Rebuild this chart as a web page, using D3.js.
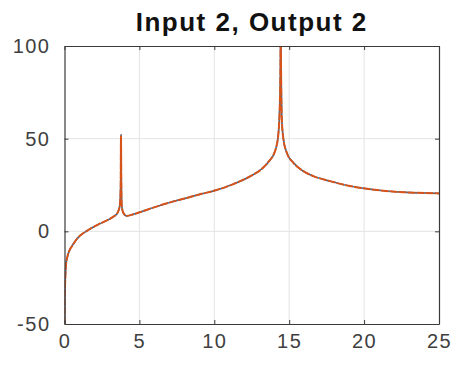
<!DOCTYPE html>
<html lang="en"><head>
<meta charset="UTF-8">
<title>Input 2, Output 2</title>
<script src="https://cdn.jsdelivr.net/npm/d3@7"></script>
<style>
body { margin: 0; background: #fff; }
text { font-family: "Liberation Sans", Arial, sans-serif; }
</style>
</head>
<body>
<script>
// response curve
var freq = [0, 0.02, 0.05, 0.1, 0.2, 0.35, 0.5, 0.7, 0.95, 1.2, 1.5, 1.9, 2.3, 2.7, 3.0, 3.3, 3.5, 3.62,
            3.7, 3.75, 3.77, 3.79, 3.82, 3.88, 3.98, 4.15, 4.6, 5.2, 5.93, 7.0, 8.16, 9.05, 10.16, 11.27, 12.38,
            13.27, 13.72, 13.94, 14.12, 14.27, 14.36, 14.41, 14.43, 14.46, 14.5, 14.61, 14.84, 15.28, 15.94,
            16.61, 17.72, 18.84, 19.95, 21.06, 22.4, 23.6, 24.85, 25];
var mag  = [-50, -35, -26, -18, -13.5, -10, -8, -5.5, -3, -1.3, 0.3, 2.2, 3.9, 5.4, 6.6, 8.1, 9.5, 11.5,
            14.5, 25, 52, 30, 14, 11, 9.3, 8.3, 9.2, 10.8, 12.8, 15.5, 18.0, 20.0, 22.3, 25.5, 29.6,
            34.4, 38.5, 41, 45, 52, 65, 85, 110, 85, 62, 50, 42.4, 37, 32.5,
            29.8, 27.1, 24.8, 23.2, 22.1, 21.2, 20.8, 20.5, 20.4];

var xTicks = [0, 5, 10, 15, 20, 25];
var yTicks = [-50, 0, 50, 100];
var title = "Input 2, Output 2";

var width = 457, height = 368;
var mLeft = 64.5, mRight = 439, mTop = 46, mBottom = 324;

var svg = d3.select("body").append("svg")
  .attr("width", width).attr("height", height);

var x = d3.scaleLinear().domain([0, 25]).range([mLeft, mRight]);
var y = d3.scaleLinear().domain([-50, 100]).range([mBottom, mTop]);

svg.append("defs").append("clipPath").attr("id", "plotclip")
  .append("rect").attr("x", mLeft).attr("y", mTop)
  .attr("width", mRight - mLeft).attr("height", mBottom - mTop);

// grid
svg.append("g").selectAll("line").data(xTicks.slice(1, -1)).enter().append("line")
  .attr("x1", d => x(d)).attr("x2", d => x(d))
  .attr("y1", mTop).attr("y2", mBottom)
  .attr("stroke", "#e3e3e3").attr("stroke-width", 1);
svg.append("g").selectAll("line").data(yTicks.slice(1, -1)).enter().append("line")
  .attr("x1", mLeft).attr("x2", mRight)
  .attr("y1", d => y(d)).attr("y2", d => y(d))
  .attr("stroke", "#e3e3e3").attr("stroke-width", 1);

// curve
var pts = freq.map((f, i) => [f, mag[i]]);
var line = d3.line().curve(d3.curveMonotoneX).x(d => x(d[0])).y(d => y(d[1]));
var g = svg.append("g").attr("clip-path", "url(#plotclip)");
g.append("path").datum(pts).attr("d", line)
  .attr("fill", "none").attr("stroke", "#0072BD").attr("stroke-width", 1.5);
g.append("path").datum(pts).attr("d", line)
  .attr("fill", "none").attr("stroke", "#D95319").attr("stroke-width", 2)
  .attr("stroke-dasharray", "8,1").attr("stroke-linejoin", "round");

// axes (ticks inside, box on)
var fmt = d => String(d);
var axB = svg.append("g").attr("transform", `translate(0,${mBottom})`)
  .call(d3.axisBottom(x).tickValues(xTicks).tickFormat(fmt).tickSize(-4).tickPadding(10).tickSizeOuter(0));
var axL = svg.append("g").attr("transform", `translate(${mLeft},0)`)
  .call(d3.axisLeft(y).tickValues(yTicks).tickFormat(fmt).tickSize(-4).tickPadding(14).tickSizeOuter(0));
var axT = svg.append("g").attr("transform", `translate(0,${mTop})`)
  .call(d3.axisTop(x).tickValues(xTicks).tickSize(-4).tickFormat("").tickSizeOuter(0));
var axR = svg.append("g").attr("transform", `translate(${mRight},0)`)
  .call(d3.axisRight(y).tickValues(yTicks).tickSize(-4).tickFormat("").tickSizeOuter(0));

[axB, axL, axT, axR].forEach(a => {
  a.select(".domain").attr("stroke", "#3a3a3a").attr("stroke-width", 1.2);
  a.selectAll(".tick line").attr("stroke", "#3a3a3a");
  a.selectAll("text").attr("fill", "#404040")
    .style("font-size", "20px").style("letter-spacing", "1.5px");
});
axB.selectAll("text").attr("dy", "0.71em");

svg.append("text").attr("x", (mLeft + mRight) / 2).attr("y", 31)
  .attr("text-anchor", "middle").attr("fill", "#111")
  .style("font-size", "26px").style("font-weight", "bold").style("letter-spacing", "1.5px")
  .text(title);
</script>
</body></html>
